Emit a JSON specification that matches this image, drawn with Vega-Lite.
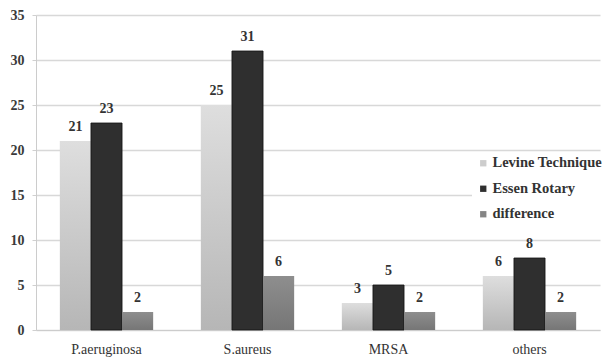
{
  "$schema": "https://vega.github.io/schema/vega-lite/v6.json",
  "autosize": {"type": "none"},
  "width": 564,
  "height": 315,
  "padding": {"left": 36, "top": 15, "right": 4, "bottom": 33},
  "background": "white",
  "config": {
    "view": {"stroke": null},
    "font": "Liberation Serif"
  },
  "data": {
    "values": [
      {"organism": "P.aeruginosa", "method": "Levine Technique", "count": 21},
      {"organism": "P.aeruginosa", "method": "Essen Rotary", "count": 23},
      {"organism": "P.aeruginosa", "method": "difference", "count": 2},
      {"organism": "S.aureus", "method": "Levine Technique", "count": 25},
      {"organism": "S.aureus", "method": "Essen Rotary", "count": 31},
      {"organism": "S.aureus", "method": "difference", "count": 6},
      {"organism": "MRSA", "method": "Levine Technique", "count": 3},
      {"organism": "MRSA", "method": "Essen Rotary", "count": 5},
      {"organism": "MRSA", "method": "difference", "count": 2},
      {"organism": "others", "method": "Levine Technique", "count": 6},
      {"organism": "others", "method": "Essen Rotary", "count": 8},
      {"organism": "others", "method": "difference", "count": 2}
    ]
  },
  "encoding": {
    "x": {
      "field": "organism",
      "type": "nominal",
      "sort": ["P.aeruginosa", "S.aureus", "MRSA", "others"],
      "scale": {"paddingInner": 0, "paddingOuter": 0},
      "axis": {
        "title": null,
        "labelAngle": 0,
        "labelFont": "Liberation Serif",
        "labelFontSize": 14,
        "labelColor": "#333333",
        "labelPadding": 12,
        "domainColor": "#cccccc",
        "ticks": false
      }
    },
    "xOffset": {
      "field": "method",
      "type": "nominal",
      "sort": ["Levine Technique", "Essen Rotary", "difference"],
      "scale": {"paddingInner": 0, "paddingOuter": 0.77}
    },
    "y": {
      "field": "count",
      "type": "quantitative",
      "scale": {"domain": [0, 35]},
      "axis": {
        "title": null,
        "values": [0, 5, 10, 15, 20, 25, 30, 35],
        "labelFont": "Liberation Serif",
        "labelFontSize": 14,
        "labelFontWeight": "bold",
        "labelColor": "#3a3a3a",
        "labelPadding": 8,
        "domainColor": "#cccccc",
        "tickColor": "#d0d0d0",
        "tickSize": 4,
        "gridColor": "#d8d8d8",
        "gridWidth": 1.5
      }
    }
  },
  "layer": [
    {
      "mark": {"type": "bar"},
      "encoding": {
        "color": {
          "field": "method",
          "type": "nominal",
          "sort": ["Levine Technique", "Essen Rotary", "difference"],
          "scale": {
            "domain": ["Levine Technique", "Essen Rotary", "difference"],
            "range": ["#cdcdcd", "#2f2f2f", "#858585"]
          },
          "legend": {
            "title": null,
            "orient": "none",
            "legendX": 436,
            "legendY": 137,
            "fillColor": "white",
            "padding": 4,
            "symbolType": "square",
            "symbolSize": 40,
            "symbolStrokeWidth": 0,
            "labelFont": "Liberation Serif",
            "labelFontSize": 14.5,
            "labelFontWeight": "bold",
            "labelColor": "#333333",
            "labelOffset": 2,
            "rowPadding": 10.5
          }
        }
      }
    },
    {
      "transform": [{"filter": "datum.method === 'Levine Technique'"}],
      "mark": {
        "type": "bar",
        "fill": {
          "gradient": "linear",
          "x1": 0, "y1": 0, "x2": 0, "y2": 1,
          "stops": [
            {"offset": 0, "color": "#dedede"},
            {"offset": 1, "color": "#b6b6b6"}
          ]
        }
      }
    },
    {
      "transform": [{"filter": "datum.method === 'Essen Rotary'"}],
      "mark": {"type": "bar", "fill": "#2f2f2f", "stroke": "#111111", "strokeWidth": 0.8}
    },
    {
      "transform": [{"filter": "datum.method === 'difference'"}],
      "mark": {
        "type": "bar",
        "fill": {
          "gradient": "linear",
          "x1": 0, "y1": 0, "x2": 0, "y2": 1,
          "stops": [
            {"offset": 0, "color": "#8e8e8e"},
            {"offset": 1, "color": "#767676"}
          ]
        }
      }
    },
    {
      "mark": {
        "type": "text",
        "baseline": "bottom",
        "dy": -7,
        "font": "Liberation Serif",
        "fontSize": 14,
        "fontWeight": "bold",
        "color": "#333333"
      },
      "encoding": {
        "text": {"field": "count", "type": "quantitative"}
      }
    }
  ]
}
